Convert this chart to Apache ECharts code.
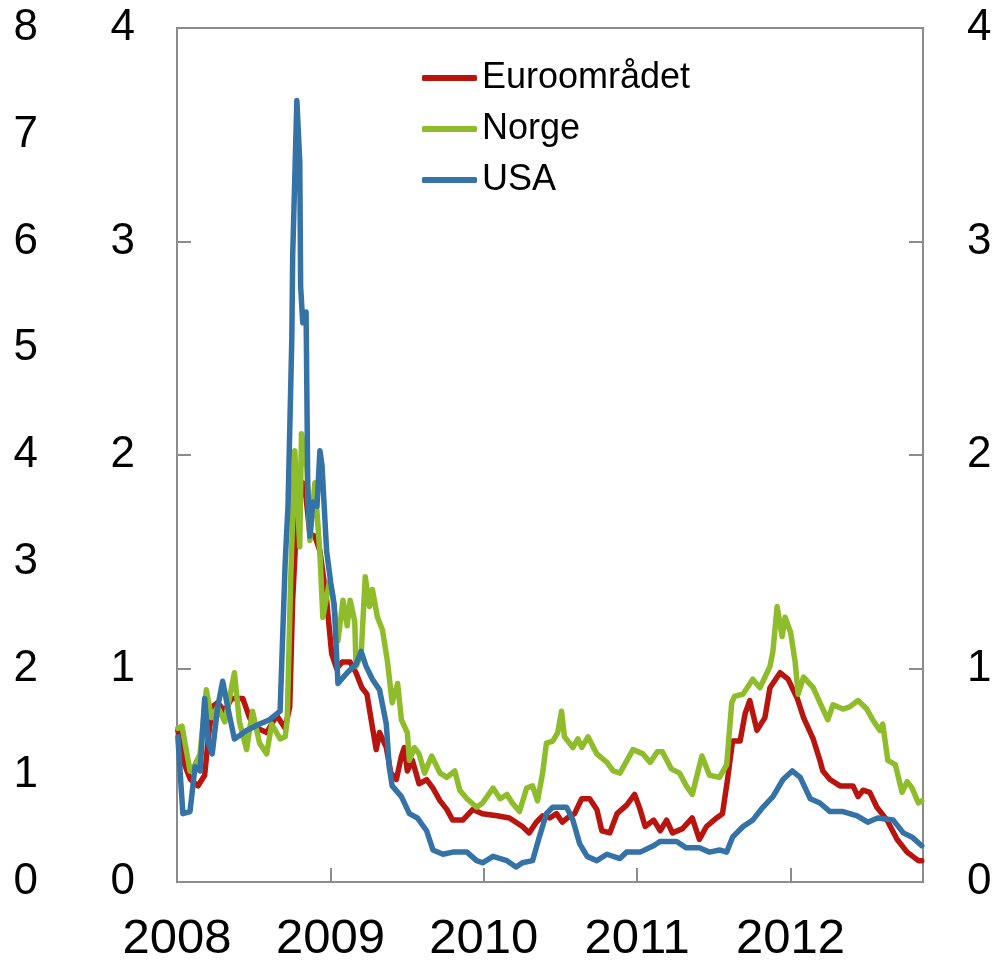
<!DOCTYPE html>
<html>
<head>
<meta charset="utf-8">
<script src="https://cdn.jsdelivr.net/npm/echarts@6/dist/echarts.min.js"></script>
<style>
  html, body { margin: 0; padding: 0; background: #fff; }
  #main { width: 995px; height: 960px; }
</style>
</head>
<body>
<div id="main"></div>
<script>
// series values: [date, value]
var euro = [
  ['2008-01-03', 0.71], ['2008-01-19', 0.55], ['2008-02-02', 0.48], ['2008-02-20', 0.45],
  ['2008-03-07', 0.50], ['2008-03-16', 0.68], ['2008-03-25', 0.82], ['2008-04-07', 0.84],
  ['2008-04-24', 0.80], ['2008-05-10', 0.86], ['2008-06-06', 0.86], ['2008-06-22', 0.77],
  ['2008-07-11', 0.72], ['2008-08-02', 0.70], ['2008-08-26', 0.78], ['2008-09-15', 0.72],
  ['2008-09-26', 0.82], ['2008-10-03', 1.32], ['2008-10-13', 1.71], ['2008-10-27', 1.87],
  ['2008-11-04', 1.80], ['2008-11-13', 1.63], ['2008-11-25', 1.62], ['2008-12-07', 1.55],
  ['2008-12-23', 1.32], ['2009-01-04', 1.07], ['2009-01-16', 1.00], ['2009-01-29', 1.03],
  ['2009-02-17', 1.03], ['2009-03-03', 0.98], ['2009-03-17', 0.91], ['2009-03-29', 0.88],
  ['2009-04-08', 0.76], ['2009-04-20', 0.62], ['2009-04-28', 0.70], ['2009-05-14', 0.63],
  ['2009-05-25', 0.51], ['2009-06-07', 0.48], ['2009-06-19', 0.59], ['2009-06-26', 0.63],
  ['2009-07-03', 0.52], ['2009-07-15', 0.57], ['2009-07-31', 0.46], ['2009-08-18', 0.48],
  ['2009-09-02', 0.44], ['2009-09-19', 0.38], ['2009-10-05', 0.34], ['2009-10-19', 0.29],
  ['2009-11-12', 0.29], ['2009-12-06', 0.34], ['2009-12-29', 0.32], ['2010-02-02', 0.31],
  ['2010-03-03', 0.30], ['2010-04-03', 0.26], ['2010-04-19', 0.23], ['2010-05-06', 0.28],
  ['2010-05-21', 0.31], ['2010-06-07', 0.30], ['2010-06-23', 0.32], ['2010-07-07', 0.28],
  ['2010-07-19', 0.30], ['2010-08-05', 0.32], ['2010-08-22', 0.39], ['2010-09-10', 0.39],
  ['2010-09-27', 0.34], ['2010-10-09', 0.24], ['2010-10-28', 0.23], ['2010-11-14', 0.32],
  ['2010-12-07', 0.36], ['2010-12-26', 0.41], ['2011-01-08', 0.34], ['2011-01-20', 0.26],
  ['2011-02-09', 0.29], ['2011-02-25', 0.24], ['2011-03-12', 0.29], ['2011-03-26', 0.23],
  ['2011-04-19', 0.25], ['2011-05-12', 0.30], ['2011-05-29', 0.20], ['2011-06-15', 0.26],
  ['2011-07-09', 0.30], ['2011-07-23', 0.32], ['2011-08-04', 0.48], ['2011-08-16', 0.66],
  ['2011-09-03', 0.66], ['2011-09-15', 0.79], ['2011-09-26', 0.85], ['2011-10-13', 0.71],
  ['2011-11-01', 0.77], ['2011-11-13', 0.91], ['2011-12-07', 0.98], ['2011-12-26', 0.95],
  ['2012-01-17', 0.86], ['2012-02-01', 0.77], ['2012-02-24', 0.67], ['2012-03-11', 0.57],
  ['2012-03-18', 0.52], ['2012-04-04', 0.48], ['2012-04-28', 0.45], ['2012-05-29', 0.45],
  ['2012-06-10', 0.40], ['2012-06-22', 0.43], ['2012-07-08', 0.42], ['2012-07-25', 0.35],
  ['2012-08-18', 0.29], ['2012-09-11', 0.20], ['2012-10-05', 0.14], ['2012-11-01', 0.10],
  ['2012-11-09', 0.10]
];

var norge = [
  ['2008-01-03', 0.72], ['2008-01-13', 0.73], ['2008-02-01', 0.52], ['2008-02-13', 0.55],
  ['2008-02-25', 0.60], ['2008-03-11', 0.90], ['2008-03-23', 0.77], ['2008-04-07', 0.82],
  ['2008-04-24', 0.75], ['2008-05-17', 0.98], ['2008-05-29', 0.75], ['2008-06-15', 0.62],
  ['2008-06-29', 0.80], ['2008-07-16', 0.65], ['2008-08-02', 0.60], ['2008-08-14', 0.74],
  ['2008-09-03', 0.67], ['2008-09-15', 0.68], ['2008-09-20', 0.76], ['2008-09-28', 1.40],
  ['2008-10-08', 2.02], ['2008-10-20', 1.57], ['2008-10-24', 2.10], ['2008-11-06', 1.94],
  ['2008-11-13', 1.60], ['2008-11-25', 1.87], ['2008-12-07', 1.54], ['2008-12-14', 1.24],
  ['2008-12-30', 1.41], ['2009-01-06', 1.35], ['2009-01-19', 1.13], ['2009-01-31', 1.32],
  ['2009-02-10', 1.20], ['2009-02-17', 1.32], ['2009-02-28', 1.22], ['2009-03-03', 1.01],
  ['2009-03-15', 1.06], ['2009-03-25', 1.43], ['2009-04-04', 1.29], ['2009-04-11', 1.37],
  ['2009-04-23', 1.24], ['2009-05-05', 1.18], ['2009-05-17', 1.03], ['2009-05-28', 0.84],
  ['2009-06-10', 0.93], ['2009-06-19', 0.76], ['2009-07-03', 0.70], ['2009-07-08', 0.57],
  ['2009-07-20', 0.63], ['2009-07-31', 0.60], ['2009-08-13', 0.51], ['2009-08-30', 0.59],
  ['2009-09-19', 0.51], ['2009-10-05', 0.49], ['2009-10-24', 0.52], ['2009-11-05', 0.43],
  ['2009-11-22', 0.39], ['2009-12-15', 0.35], ['2009-12-29', 0.37], ['2010-01-23', 0.44],
  ['2010-02-09', 0.39], ['2010-02-25', 0.41], ['2010-03-10', 0.37], ['2010-03-27', 0.33],
  ['2010-04-13', 0.44], ['2010-04-27', 0.45], ['2010-05-09', 0.38], ['2010-05-21', 0.51],
  ['2010-05-30', 0.65], ['2010-06-14', 0.66], ['2010-06-26', 0.70], ['2010-07-05', 0.80],
  ['2010-07-12', 0.68], ['2010-08-01', 0.63], ['2010-08-13', 0.67], ['2010-08-22', 0.63],
  ['2010-09-06', 0.68], ['2010-09-27', 0.60], ['2010-10-21', 0.56], ['2010-11-05', 0.52],
  ['2010-11-21', 0.51], ['2010-12-22', 0.62], ['2011-01-15', 0.60], ['2011-02-01', 0.56],
  ['2011-02-18', 0.61], ['2011-03-02', 0.61], ['2011-03-23', 0.53], ['2011-04-12', 0.51],
  ['2011-04-28', 0.45], ['2011-05-12', 0.41], ['2011-06-04', 0.59], ['2011-06-22', 0.50],
  ['2011-07-16', 0.49], ['2011-08-02', 0.55], ['2011-08-14', 0.84], ['2011-08-21', 0.87],
  ['2011-09-10', 0.88], ['2011-10-03', 0.95], ['2011-10-20', 0.91], ['2011-11-06', 0.98],
  ['2011-11-13', 1.01], ['2011-11-20', 1.08], ['2011-11-30', 1.29], ['2011-12-12', 1.15],
  ['2011-12-19', 1.24], ['2012-01-01', 1.17], ['2012-01-12', 1.03], ['2012-01-19', 0.88],
  ['2012-02-01', 0.96], ['2012-02-24', 0.91], ['2012-03-11', 0.84], ['2012-03-30', 0.76],
  ['2012-04-11', 0.83], ['2012-05-05', 0.81], ['2012-05-21', 0.82], ['2012-06-10', 0.85],
  ['2012-07-01', 0.81], ['2012-07-15', 0.76], ['2012-08-01', 0.71], ['2012-08-08', 0.74],
  ['2012-08-20', 0.57], ['2012-09-07', 0.55], ['2012-09-23', 0.42], ['2012-10-05', 0.47],
  ['2012-10-17', 0.44], ['2012-11-01', 0.37], ['2012-11-09', 0.38]
];

var usa = [
  ['2008-01-03', 0.68], ['2008-01-15', 0.32], ['2008-02-01', 0.33], ['2008-02-13', 0.54],
  ['2008-02-25', 0.52], ['2008-03-07', 0.86], ['2008-03-16', 0.65], ['2008-03-25', 0.60],
  ['2008-04-07', 0.82], ['2008-04-19', 0.94], ['2008-05-03', 0.80], ['2008-05-17', 0.67],
  ['2008-06-01', 0.69], ['2008-06-15', 0.71], ['2008-07-16', 0.74], ['2008-08-09', 0.76],
  ['2008-09-03', 0.80], ['2008-09-15', 1.49], ['2008-09-22', 1.77], ['2008-10-01', 2.55],
  ['2008-10-03', 2.93], ['2008-10-13', 3.66], ['2008-10-20', 3.37], ['2008-10-22', 2.79],
  ['2008-10-27', 2.62], ['2008-11-04', 2.67], ['2008-11-08', 1.85], ['2008-11-13', 1.62],
  ['2008-11-20', 1.78], ['2008-11-30', 1.76], ['2008-12-07', 2.02], ['2008-12-12', 1.95],
  ['2008-12-23', 1.55], ['2009-01-02', 1.40], ['2009-01-10', 1.30], ['2009-01-19', 0.93],
  ['2009-02-10', 0.98], ['2009-03-03', 1.02], ['2009-03-15', 1.08], ['2009-03-27', 1.01],
  ['2009-04-11', 0.95], ['2009-04-28', 0.90], ['2009-05-14', 0.74], ['2009-05-21', 0.54],
  ['2009-05-28', 0.45], ['2009-06-19', 0.40], ['2009-07-08', 0.32], ['2009-07-27', 0.30],
  ['2009-08-18', 0.24], ['2009-09-02', 0.15], ['2009-09-26', 0.13], ['2009-10-19', 0.14],
  ['2009-11-22', 0.14], ['2009-12-15', 0.10], ['2009-12-29', 0.09], ['2010-01-23', 0.12],
  ['2010-02-25', 0.10], ['2010-03-19', 0.07], ['2010-04-03', 0.09], ['2010-04-27', 0.10],
  ['2010-05-13', 0.21], ['2010-05-30', 0.32], ['2010-06-14', 0.35], ['2010-07-17', 0.35],
  ['2010-08-01', 0.29], ['2010-08-17', 0.18], ['2010-09-04', 0.12], ['2010-09-27', 0.10],
  ['2010-10-21', 0.13], ['2010-11-21', 0.11], ['2010-12-07', 0.14], ['2011-01-08', 0.14],
  ['2011-02-09', 0.17], ['2011-02-25', 0.19], ['2011-04-05', 0.19], ['2011-04-28', 0.16],
  ['2011-05-29', 0.16], ['2011-06-22', 0.14], ['2011-07-16', 0.15], ['2011-08-02', 0.14],
  ['2011-08-16', 0.21], ['2011-09-10', 0.26], ['2011-10-03', 0.29], ['2011-10-27', 0.35],
  ['2011-11-20', 0.40], ['2011-12-14', 0.48], ['2012-01-05', 0.52], ['2012-01-24', 0.49],
  ['2012-02-17', 0.39], ['2012-03-11', 0.37], ['2012-04-04', 0.33], ['2012-05-05', 0.33],
  ['2012-06-08', 0.31], ['2012-07-03', 0.28], ['2012-07-27', 0.30], ['2012-09-02', 0.29],
  ['2012-09-26', 0.23], ['2012-10-17', 0.21], ['2012-11-09', 0.17]
];

var seriesNames = ['Euroområdet', 'Norge', 'USA'];
var seriesColors = ['#b8150f', '#8fbc2b', '#3573a7'];
var xStart = '2008-01-01';
var xEnd = '2012-11-12';

// date string -> decimal year, so the year ticks land on 1 January
function toYear(s) {
    var d = new Date(s + 'T00:00:00Z');
    var y = d.getUTCFullYear();
    var a = Date.UTC(y, 0, 1), b = Date.UTC(y + 1, 0, 1);
    return y + (d.getTime() - a) / (b - a);
}

function toPoints(arr) {
    return arr.map(function (p) { return [toYear(p[0]), p[1]]; });
}

var chartDom = document.getElementById('main');
var myChart = echarts.init(chartDom);
var font = 'Liberation Sans, Arial, sans-serif';
var frame = '#8c8c8c';

var option = {
    animation: false,
    color: seriesColors,
    grid: {
        left: 177, right: 72, top: 28, bottom: 78,
        outerBoundsMode: 'none',
        show: true, borderColor: frame, borderWidth: 2, backgroundColor: 'transparent'
    },
    legend: {
        orient: 'vertical',
        left: 417,
        top: 55,
        itemWidth: 55,
        itemHeight: 6,
        itemGap: 15,
        icon: 'roundRect',
        data: seriesNames,
        textStyle: { fontFamily: font, fontSize: 36, color: '#000' }
    },
    xAxis: {
        type: 'value',
        min: toYear(xStart),
        max: toYear(xEnd),
        interval: 1,
        axisLine: { show: false },
        axisTick: { inside: true, length: 14, lineStyle: { color: frame, width: 2 } },
        splitLine: { show: false },
        axisLabel: {
            fontFamily: font, fontSize: 49, color: '#000', margin: 33,
            showMaxLabel: false,
            formatter: function (v) { return Math.abs(v - Math.round(v)) < 1e-6 ? String(Math.round(v)) : ''; }
        }
    },
    yAxis: [
        {
            type: 'value', position: 'left', min: 0, max: 4, interval: 1,
            axisLine: { show: false },
            axisTick: { inside: true, length: 14, lineStyle: { color: frame, width: 2 } },
            splitLine: { show: false },
            axisLabel: { fontFamily: font, fontSize: 44, color: '#000', margin: 42 }
        },
        {
            type: 'value', position: 'right', min: 0, max: 4, interval: 1,
            axisLine: { show: false },
            axisTick: { inside: true, length: 14, lineStyle: { color: frame, width: 2 } },
            splitLine: { show: false },
            axisLabel: { fontFamily: font, fontSize: 44, color: '#000', margin: 44 }
        },
        {
            type: 'value', position: 'left', offset: 131, min: 0, max: 8, interval: 1,
            axisLine: { show: false },
            axisTick: { show: false },
            splitLine: { show: false },
            axisLabel: { fontFamily: font, fontSize: 44, color: '#000', margin: 8 }
        }
    ],
    series: [euro, norge, usa].map(function (arr, i) {
        return {
            name: seriesNames[i],
            type: 'line',
            yAxisIndex: 0,
            symbol: 'none',
            data: toPoints(arr),
            lineStyle: { width: 5.5, color: seriesColors[i], cap: 'round', join: 'round' },
            itemStyle: { color: seriesColors[i] }
        };
    })
};

option && myChart.setOption(option);
</script>
</body>
</html>
